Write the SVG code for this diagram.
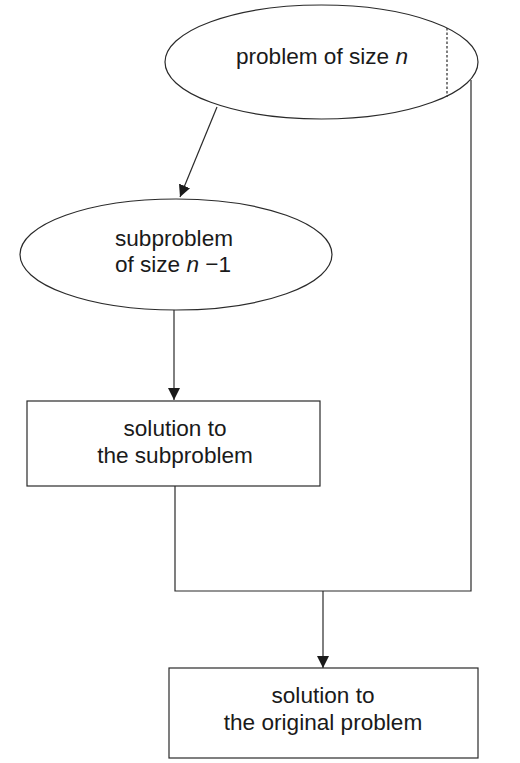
<svg xmlns="http://www.w3.org/2000/svg" width="520" height="763" viewBox="0 0 520 763">
<defs>
<style>
.shape{fill:#fff;stroke:#2a2a2a;stroke-width:1.2}
.conn{fill:none;stroke:#2a2a2a;stroke-width:1.2}
.dot{fill:none;stroke:#2a2a2a;stroke-width:1.2;stroke-dasharray:2.5,2}
.lbl{font-family:"Liberation Sans",Arial,sans-serif;font-size:22.6px;fill:#1a1a1a;text-anchor:middle}
</style>
<marker id="arr" markerWidth="12" markerHeight="12" refX="12" refY="6" orient="auto" markerUnits="userSpaceOnUse">
<path d="M0,0 L12,6 L0,12 Z" fill="#1a1a1a"/>
</marker>
</defs>
<rect width="520" height="763" fill="#fff"/>
<g id="connectors">
<line class="conn" x1="217" y1="107" x2="180" y2="197" marker-end="url(#arr)"/>
<line class="conn" x1="174" y1="310" x2="174" y2="400" marker-end="url(#arr)"/>
<polyline class="conn" points="175,486 175,591 471,591 471,80"/>
<line class="conn" x1="323" y1="591" x2="323" y2="668" marker-end="url(#arr)"/>
</g>
<g id="problem">
<ellipse class="shape" cx="321.5" cy="62" rx="156.5" ry="57"/>
<line class="dot" x1="447" y1="28" x2="447" y2="97"/>
<text class="lbl" x="322" y="64">problem of size <tspan font-style="italic">n</tspan></text>
</g>
<g id="subproblem">
<ellipse class="shape" cx="176" cy="254.5" rx="156" ry="55.5"/>
<text class="lbl" x="174" y="246">subproblem</text>
<text class="lbl" x="173" y="272">of size <tspan font-style="italic">n</tspan> −1</text>
</g>
<g id="subsolution">
<rect class="shape" x="27" y="401" width="293" height="85"/>
<text class="lbl" x="175" y="436">solution to</text>
<text class="lbl" x="175" y="463">the subproblem</text>
</g>
<g id="solution">
<rect class="shape" x="169" y="668" width="309" height="90"/>
<text class="lbl" x="323" y="703">solution to</text>
<text class="lbl" x="323" y="730">the original problem</text>
</g>
</svg>
